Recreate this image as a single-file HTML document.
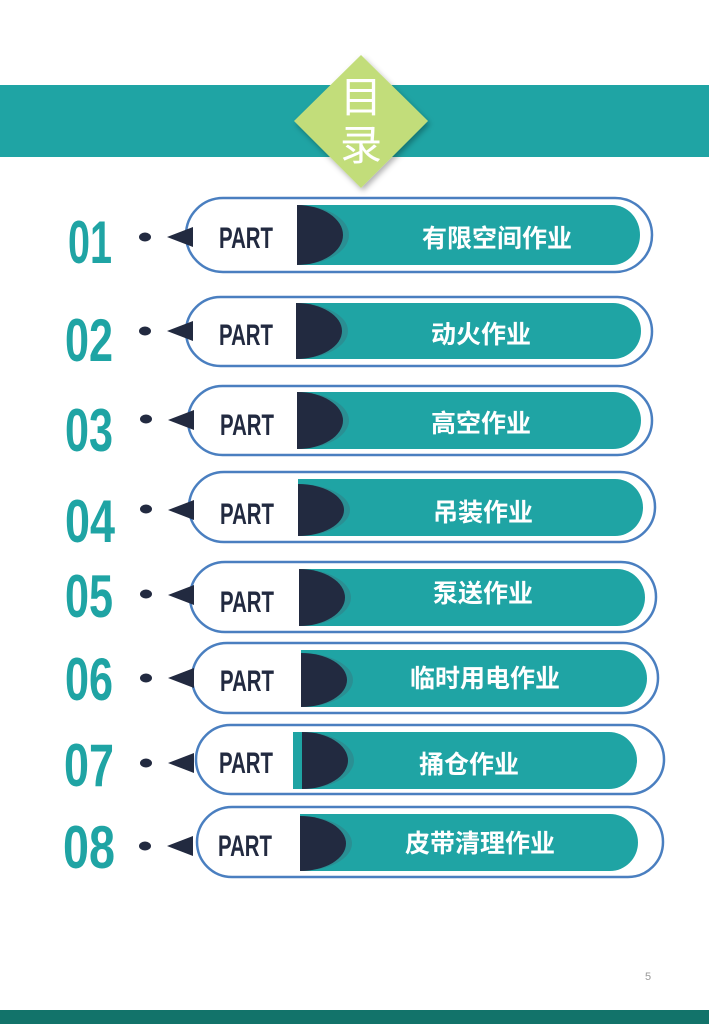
<!DOCTYPE html>
<html><head><meta charset="utf-8"><style>
html,body{margin:0;padding:0;background:#fff;}
svg{display:block}
.n{font-family:"Liberation Sans",sans-serif;font-weight:bold;fill:#1fa4a4}
.p{font-family:"Liberation Sans",sans-serif;font-weight:bold;fill:#222a40}
.l{font-family:"Liberation Sans","Noto Sans CJK SC",sans-serif;font-weight:bold;fill:#fff;font-size:25px}
</style></head><body>
<svg width="709" height="1024" viewBox="0 0 709 1024" xmlns="http://www.w3.org/2000/svg">
<defs>
<filter id="sh" x="-20%" y="-20%" width="140%" height="140%"><feDropShadow dx="2" dy="3" stdDeviation="3" flood-opacity="0.3"/></filter>
</defs>
<rect x="0" y="85" width="709" height="72" fill="#1fa4a4"/>
<polygon points="361,55 428,121 361,188 294,121" fill="#c2dd7a" filter="url(#sh)"/>
<text x="361" y="112" text-anchor="middle" font-family="'Liberation Sans','Noto Sans CJK SC',sans-serif" font-size="42" fill="#fff">目</text>
<text x="361" y="160" text-anchor="middle" font-family="'Liberation Sans','Noto Sans CJK SC',sans-serif" font-size="42" fill="#fff">录</text>

<g>
<rect x="186" y="198" width="466" height="74" rx="37" fill="#fff" stroke="#4a7fc0" stroke-width="2.5"/>
<path d="M297,205 H612 A28,30 0 0 1 612,265 H297 Z" fill="#1fa4a4"/>
<path d="M297,205 A52,30 0 0 1 297,265 Z" fill="#2a8f93"/>
<path d="M297,205 A46,30 0 0 1 297,265 Z" fill="#222a40"/>
<text class="p" x="219" y="248" font-size="30" textLength="54" lengthAdjust="spacingAndGlyphs">PART</text>
<text class="l" x="497" y="247" text-anchor="middle">有限空间作业</text>
<text class="n" x="68" y="263" font-size="60" textLength="44" lengthAdjust="spacingAndGlyphs">01</text>
<ellipse cx="145" cy="237" rx="6" ry="4.5" fill="#222a40"/>
<polygon points="167,237 193,227 193,247" fill="#222a40"/>
</g>
<g>
<rect x="186" y="297" width="466" height="69" rx="34.5" fill="#fff" stroke="#4a7fc0" stroke-width="2.5"/>
<path d="M296,303 H613 A28,28 0 0 1 613,359 H296 Z" fill="#1fa4a4"/>
<path d="M296,303 A52,28 0 0 1 296,359 Z" fill="#2a8f93"/>
<path d="M296,303 A46,28 0 0 1 296,359 Z" fill="#222a40"/>
<text class="p" x="219" y="345" font-size="30" textLength="54" lengthAdjust="spacingAndGlyphs">PART</text>
<text class="l" x="481" y="343" text-anchor="middle">动火作业</text>
<text class="n" x="65" y="361" font-size="60" textLength="48" lengthAdjust="spacingAndGlyphs">02</text>
<ellipse cx="145" cy="331" rx="6" ry="4.5" fill="#222a40"/>
<polygon points="167,331 193,321 193,341" fill="#222a40"/>
</g>
<g>
<rect x="188" y="386" width="464" height="69" rx="34.5" fill="#fff" stroke="#4a7fc0" stroke-width="2.5"/>
<path d="M297,392 H613 A28,28.5 0 0 1 613,449 H297 Z" fill="#1fa4a4"/>
<path d="M297,392 A52,28.5 0 0 1 297,449 Z" fill="#2a8f93"/>
<path d="M297,392 A46,28.5 0 0 1 297,449 Z" fill="#222a40"/>
<text class="p" x="220" y="435" font-size="30" textLength="54" lengthAdjust="spacingAndGlyphs">PART</text>
<text class="l" x="481" y="432" text-anchor="middle">高空作业</text>
<text class="n" x="65" y="451" font-size="60" textLength="48" lengthAdjust="spacingAndGlyphs">03</text>
<ellipse cx="146" cy="419" rx="6" ry="4.5" fill="#222a40"/>
<polygon points="168,420 194,410 194,430" fill="#222a40"/>
</g>
<g>
<rect x="189" y="472" width="466" height="70" rx="35" fill="#fff" stroke="#4a7fc0" stroke-width="2.5"/>
<path d="M298,479 H615 A28,28.5 0 0 1 615,536 H298 Z" fill="#1fa4a4"/>
<path d="M298,484 A52,26 0 0 1 298,536 Z" fill="#2a8f93"/>
<path d="M298,484 A46,26 0 0 1 298,536 Z" fill="#222a40"/>
<text class="p" x="220" y="524" font-size="30" textLength="54" lengthAdjust="spacingAndGlyphs">PART</text>
<text class="l" x="483" y="521" text-anchor="middle">吊装作业</text>
<text class="n" x="65" y="542" font-size="60" textLength="50" lengthAdjust="spacingAndGlyphs">04</text>
<ellipse cx="146" cy="509" rx="6" ry="4.5" fill="#222a40"/>
<polygon points="168,510 194,500 194,520" fill="#222a40"/>
</g>
<g>
<rect x="190" y="562" width="466" height="70" rx="35" fill="#fff" stroke="#4a7fc0" stroke-width="2.5"/>
<path d="M299,569 H617 A28,28.5 0 0 1 617,626 H299 Z" fill="#1fa4a4"/>
<path d="M299,569 A52,28.5 0 0 1 299,626 Z" fill="#2a8f93"/>
<path d="M299,569 A46,28.5 0 0 1 299,626 Z" fill="#222a40"/>
<text class="p" x="220" y="612" font-size="30" textLength="54" lengthAdjust="spacingAndGlyphs">PART</text>
<text class="l" x="483" y="602" text-anchor="middle">泵送作业</text>
<text class="n" x="65" y="617" font-size="60" textLength="48" lengthAdjust="spacingAndGlyphs">05</text>
<ellipse cx="146" cy="594" rx="6" ry="4.5" fill="#222a40"/>
<polygon points="168,595 194,585 194,605" fill="#222a40"/>
</g>
<g>
<rect x="192" y="643" width="466" height="70" rx="35" fill="#fff" stroke="#4a7fc0" stroke-width="2.5"/>
<path d="M301,650 H619 A28,28.5 0 0 1 619,707 H301 Z" fill="#1fa4a4"/>
<path d="M301,653 A52,27 0 0 1 301,707 Z" fill="#2a8f93"/>
<path d="M301,653 A46,27 0 0 1 301,707 Z" fill="#222a40"/>
<text class="p" x="220" y="691" font-size="30" textLength="54" lengthAdjust="spacingAndGlyphs">PART</text>
<text class="l" x="485" y="687" text-anchor="middle">临时用电作业</text>
<text class="n" x="65" y="700" font-size="60" textLength="48" lengthAdjust="spacingAndGlyphs">06</text>
<ellipse cx="146" cy="678" rx="6" ry="4.5" fill="#222a40"/>
<polygon points="168,678 194,668 194,688" fill="#222a40"/>
</g>
<g>
<rect x="196" y="725" width="468" height="69" rx="34.5" fill="#fff" stroke="#4a7fc0" stroke-width="2.5"/>
<path d="M293,732 H609 A28,28.5 0 0 1 609,789 H293 Z" fill="#1fa4a4"/>
<path d="M302,732 A52,28.5 0 0 1 302,789 Z" fill="#2a8f93"/>
<path d="M302,732 A46,28.5 0 0 1 302,789 Z" fill="#222a40"/>
<text class="p" x="219" y="773" font-size="30" textLength="54" lengthAdjust="spacingAndGlyphs">PART</text>
<text class="l" x="469" y="773" text-anchor="middle">捅仓作业</text>
<text class="n" x="64" y="786" font-size="60" textLength="50" lengthAdjust="spacingAndGlyphs">07</text>
<ellipse cx="146" cy="763" rx="6" ry="4.5" fill="#222a40"/>
<polygon points="168,763 194,753 194,773" fill="#222a40"/>
</g>
<g>
<rect x="197" y="807" width="466" height="70" rx="35" fill="#fff" stroke="#4a7fc0" stroke-width="2.5"/>
<path d="M300,814 H610 A28,28.5 0 0 1 610,871 H300 Z" fill="#1fa4a4"/>
<path d="M300,816 A52,27.5 0 0 1 300,871 Z" fill="#2a8f93"/>
<path d="M300,816 A46,27.5 0 0 1 300,871 Z" fill="#222a40"/>
<text class="p" x="218" y="856" font-size="30" textLength="54" lengthAdjust="spacingAndGlyphs">PART</text>
<text class="l" x="480" y="852" text-anchor="middle">皮带清理作业</text>
<text class="n" x="63" y="868" font-size="60" textLength="52" lengthAdjust="spacingAndGlyphs">08</text>
<ellipse cx="145" cy="846" rx="6" ry="4.5" fill="#222a40"/>
<polygon points="167,846 193,836 193,856" fill="#222a40"/>
</g>

<text x="645" y="980" font-family="'Liberation Sans',sans-serif" font-size="11" fill="#999">5</text>
<rect x="0" y="1010" width="709" height="14" fill="#12736a"/>
</svg>
</body></html>
